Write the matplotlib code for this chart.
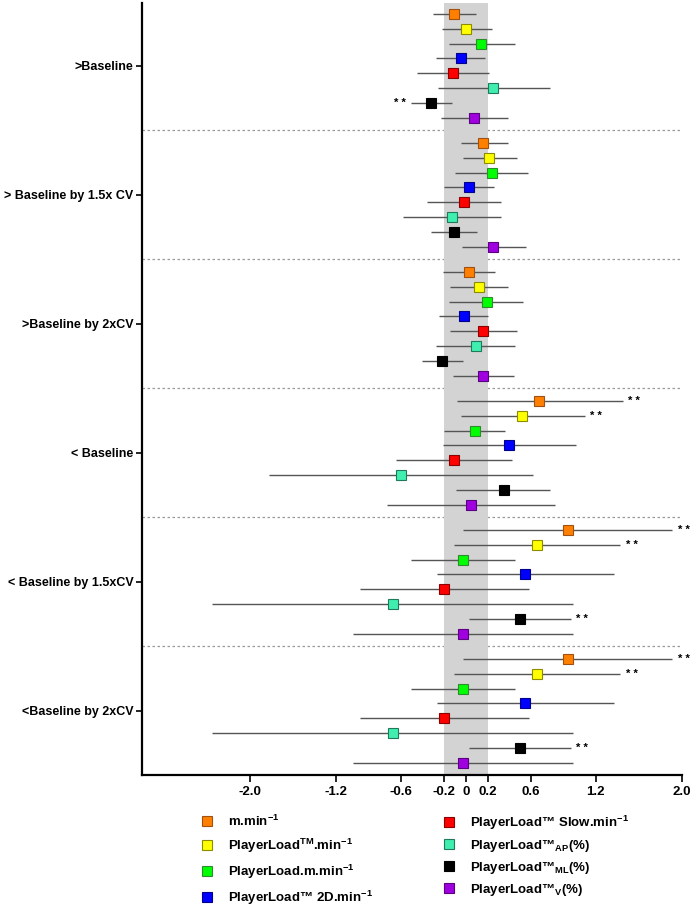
import numpy as np
import matplotlib
matplotlib.use("Agg")
import matplotlib.pyplot as plt
from matplotlib.lines import Line2D

plt.rcParams['font.family'] = ['Liberation Sans', 'DejaVu Sans']
plt.rcParams['font.weight'] = 'bold'
plt.rcParams['mathtext.fontset'] = 'custom'
plt.rcParams['mathtext.rm'] = 'Liberation Sans:bold'
plt.rcParams['mathtext.it'] = 'Liberation Sans:bold'
plt.rcParams['mathtext.bf'] = 'Liberation Sans:bold'
plt.rcParams['mathtext.default'] = 'rm'

# categories (top to bottom)
groups = [">Baseline", "> Baseline by 1.5x CV", ">Baseline by 2xCV",
          "< Baseline", "< Baseline by 1.5xCV", "<Baseline by 2xCV"]

series = ["m.min$^{-1}$", "PlayerLoad$^{TM}$.min$^{-1}$", "PlayerLoad.m.min$^{-1}$",
          "PlayerLoad™ 2D.min$^{-1}$", "PlayerLoad™ Slow.min$^{-1}$",
          "PlayerLoad™$_{AP}$(%)", "PlayerLoad™$_{ML}$(%)", "PlayerLoad™$_{V}$(%)"]
face = ['#FF8000', '#FFFF00', '#00FF00', '#0000FF', '#FF0000', '#40EEB0', '#000000', '#A000E0']
edge = ['#A05010', '#8C8C00', '#2E8B2E', '#00008B', '#8B0000', '#1E7A5A', '#000000', '#5A0080']

# effect sizes, one row per group, one value per series
mean = [[-0.11, 0.00, 0.14, -0.05, -0.12, 0.25, -0.32, 0.07],
        [0.16, 0.21, 0.24, 0.03, -0.02, -0.13, -0.11, 0.25],
        [0.03, 0.12, 0.19, -0.02, 0.16, 0.09, -0.22, 0.16],
        [0.68, 0.52, 0.08, 0.40, -0.11, -0.60, 0.35, 0.05],
        [0.94, 0.66, -0.03, 0.55, -0.20, -0.68, 0.50, -0.03],
        [0.94, 0.66, -0.03, 0.55, -0.20, -0.68, 0.50, -0.03]]
lower = [[-0.31, -0.22, -0.16, -0.28, -0.45, -0.26, -0.51, -0.23],
         [-0.05, -0.03, -0.10, -0.20, -0.36, -0.58, -0.32, -0.04],
         [-0.21, -0.15, -0.16, -0.25, -0.15, -0.28, -0.41, -0.12],
         [-0.08, -0.05, -0.20, -0.21, -0.65, -1.82, -0.09, -0.73],
         [-0.03, -0.11, -0.51, -0.27, -0.98, -2.35, 0.03, -1.05],
         [-0.03, -0.11, -0.51, -0.27, -0.98, -2.35, 0.03, -1.05]]
upper = [[0.09, 0.24, 0.45, 0.18, 0.21, 0.78, -0.13, 0.39],
         [0.39, 0.47, 0.57, 0.26, 0.32, 0.32, 0.10, 0.56],
         [0.27, 0.39, 0.53, 0.20, 0.47, 0.45, -0.03, 0.44],
         [1.45, 1.10, 0.36, 1.02, 0.43, 0.62, 0.78, 0.82],
         [1.91, 1.43, 0.45, 1.37, 0.58, 0.99, 0.97, 0.99],
         [1.91, 1.43, 0.45, 1.37, 0.58, 0.99, 0.97, 0.99]]
# (group, series) pairs marked **
sig = [(0, 6), (3, 0), (3, 1), (4, 0), (4, 1), (4, 6), (5, 0), (5, 1), (5, 6)]

xticks = [-2.0, -1.2, -0.6, -0.2, 0, 0.2, 0.6, 1.2, 2.0]
xticklabels = ["-2.0", "-1.2", "-0.6", "-0.2", "0", "0.2", "0.6", "1.2", "2.0"]

step = 8.66
fig = plt.figure(figsize=(6.91, 9.08), dpi=100)
ax = fig.add_axes([0.2055, 0.1465, 0.7815, 0.8502])

ax.axvspan(-0.2, 0.2, color='#D3D3D3', lw=0, zorder=1)
for g in range(len(groups) - 1):
    ax.axhline(g * step + 7.83, color='#9A9A9A', lw=0.9, ls=(0, (2, 2)), zorder=0)

for g in range(len(groups)):
    for s in range(len(series)):
        y = g * step + s
        m, lo, hi = mean[g][s], lower[g][s], upper[g][s]
        ax.errorbar(m, y, xerr=[[m - lo], [hi - m]], fmt='none', ecolor='#555555',
                    elinewidth=1, capsize=0, zorder=2)
        ax.plot(m, y, 's', ms=7.6, mfc=face[s], mec=edge[s], mew=0.8, zorder=3)
        if (g, s) in sig:
            if m < 0:
                ax.text(lo - 0.05, y, "* *", ha='right', va='center', fontsize=8)
            else:
                ax.text(hi + 0.05, y, "* *", ha='left', va='center', fontsize=8)

ax.set_xlim(-3, 2)
ax.set_ylim(5 * step + 7.8, -0.72)
ax.set_xticks(xticks)
ax.set_xticklabels(xticklabels, fontsize=9.5, fontweight='bold')
ax.set_yticks([g * step + 3.5 for g in range(len(groups))])
ax.set_yticklabels(groups, fontsize=9, fontweight='bold')
ax.tick_params(axis='x', length=5, width=1.2, pad=3)
ax.tick_params(axis='y', length=4, width=1.2, pad=2)
for side in ['top', 'right']:
    ax.spines[side].set_visible(False)
for side in ['left', 'bottom']:
    ax.spines[side].set_linewidth(1.6)

handles = [Line2D([], [], marker='s', ls='none', ms=7, mfc=face[s], mec=edge[s], mew=0.8)
           for s in range(len(series))]
kw = dict(loc='upper left', frameon=False, fontsize=9.5, borderpad=0, borderaxespad=0,
          handlelength=0.8, handletextpad=1.2)
leg1 = fig.legend(handles[:4], series[:4], bbox_to_anchor=(0.292, 0.104), labelspacing=0.6, **kw)
leg2 = fig.legend(handles[4:], series[4:], bbox_to_anchor=(0.642, 0.104), labelspacing=0.45, **kw)
for leg in (leg1, leg2):
    for t in leg.get_texts():
        t.set_fontweight('bold')

fig.savefig("out.png", dpi=100)
